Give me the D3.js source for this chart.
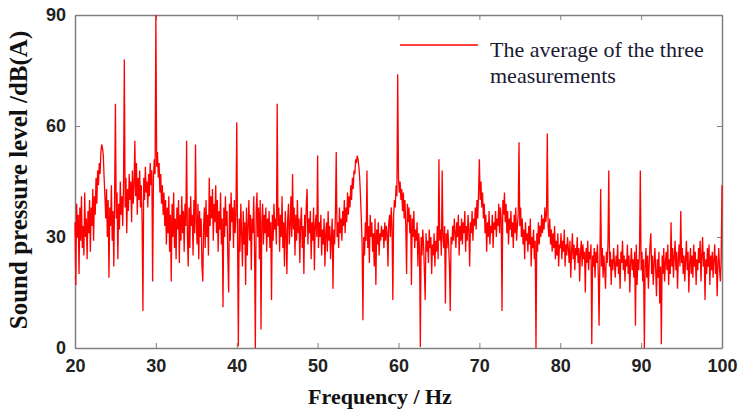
<!DOCTYPE html>
<html>
<head>
<meta charset="utf-8">
<script src="https://cdn.jsdelivr.net/npm/d3@7"></script>
<style>
  body { margin: 0; background: #fff; }
  .tick text { font-family: "Liberation Sans", Arial, sans-serif; font-weight: bold; font-size: 18px; fill: #222; }
  .axis path, .axis line { stroke: #808080; }
</style>
</head>
<body>
<div id="chart"></div>
<script>
// sound pressure level, one value every 0.1 Hz from 20 Hz
var startHz = 20, stepHz = 0.1;
var level20 = [34,17,39,30,36,20,38,29,41,27, 33,25,42,30,35,24,37,31,40,26,
    38,33,43,29,41,36,46,39,48,44, 50,47,53,55,54,52,46,41,35,43,
    30,40,19,38,33,44,29,37,22,41, 66,35,42,24,39,32,45,36,41,33,
    44,78,38,46,31,43,37,47,40,45, 34,48,39,44,56,41,50,36,46,40,
    48,38,44,34,10,46,40,49,42,45, 38,47,41,50,44,48,18,46,51,47];
var level30 = [90,49,53,46,50,42,47,39,44,36, 42,33,40,28,38,31,41,26,36,18,
    39,30,42,27,35,24,38,32,40,23, 36,29,41,31,37,26,39,33,56,30,
    22,38,27,41,33,36,25,40,31,55, 34,28,39,24,37,30,35,22,18,33,
    38,27,40,30,36,25,46,33,41,35, 43,29,39,34,44,31,40,26,37,32,
    42,28,35,11,38,30,41,33,37,24, 15,39,29,42,34,38,27,40,31,36];
var level40 = [61,30,0.5,35,26,39,31,22,37,28, 34,17,38,25,33,40,29,36,21,35,
    31,41,27,0,37,42,30,38,24,40, 5,34,39,28,36,31,38,26,35,30,
    37,27,34,13,36,29,39,32,35,28, 66,33,38,26,36,30,41,27,34,22,
    37,31,20,35,39,28,33,41,30,47, 32,38,25,36,29,40,31,35,23,34,
    38,27,33,20,36,30,39,43,28,35, 31,37,24,34,29,38,21,33,36,30];
var level50 = [52,27,34,30,36,25,32,28,35,22, 31,34,26,37,29,33,24,30,35,16,
    32,28,36,53,30,34,27,38,31,35, 29,37,33,40,31,38,34,42,36,41,
    38,44,40,46,43,48,47,51,50,52, 51,49,46,41,35,28,7.5,30,25,34,
    29,48,27,33,23,36,30,34,26,31, 22,35,17,32,28,34,25,31,29,33,
    30,32,27,34,29,33,31,22,34,36, 30,38,33,13,36,40,38,44,41,74];
var level60 = [46,42,45,40,43,37,42,35,40,33, 20,39,34,38,31,36,17,35,30,37,
    27,32,29,34,22,31,27,0.3,30,25, 32,28,21,13,31,26,29,23,32,27,
    30,20,28,25,31,22,29,26,33,24, 51,29,32,25,48,30,27,33,12,31,
    27,32,28,22,10,30,28,33,29,35, 31,27,34,30,36,25,33,29,35,28,
    34,31,37,26,33,29,36,32,22,34, 31,37,29,35,33,38,32,40,35,42];
var level70 = [51,40,45,38,42,35,39,31,36,26, 34,30,37,28,33,31,36,27,34,32,
    37,30,35,33,39,31,38,35,10,40, 36,42,34,39,31,37,28,35,32,37,
    30,34,27,36,31,38,29,33,36,55.6, 33,38,30,35,28,32,24,34,29,31,
    26,33,28,35,22,30,27,32,24,29, 0,31,26,34,28,33,30,36,31,35,
    32,38,34,36,58,33,30,35,28,32, 26,31,27,33,24,29,25,31,22,28];
var level80 = [27,31,24,29,26,32,22,28,25,30, 27,23,29,19,26,31,24,28,21,27,
    25,30,23,27,18,26,29,22,28,24, 26,15,27,23,29,21,26,24,28,1,
    25,22,27,19,26,23,28,20,6,24, 43,22,27,19,25,21,16,26,23,28,
    48,22,26,17,24,21,27,23,19,25, 22,28,20,24,16,26,23,29,21,25,
    18,24,22,28,20,25,15,23,27,21, 24,19,26,6,28,17,24,21,26,48];
var level90 = [21,26,18,24,0,22,27,19,25,16, 23,28,31,20,25,17,23,27,21,14,
    24,19,26,12,22,1,25,20,27,18, 23,26,21,28,17,24,20,34,22,27,
    19,25,29,21,26,16,24,28,22,37, 23,27,20,25,18,24,29,21,26,15,
    23,27,20,25,19,28,22,26,17,24, 21,27,23,29,18,25,30,22,26,13,
    24,20,27,22,28,17,25,21,26,19, 24,28,20,25,14,23,27,21,18,24, 44];

var xTicks = [20, 30, 40, 50, 60, 70, 80, 90, 100];
var yTicks = [0, 30, 60, 90];
var legendLines = ['The average of the three', 'measurements'];

var levels = [].concat(level20, level30, level40, level50, level60, level70, level80, level90);
var data = levels.map(function (d, i) {
    return {f: startHz + i * stepHz, v: d};
});

var margin = {top: 15, bottom: 66, left: 75, right: 18};
var width = 740 - margin.left - margin.right,
    height = 414 - margin.top - margin.bottom;

var svg = d3.select('#chart').append('svg')
    .attr('width', 740)
    .attr('height', 414);

var g = svg.append('g')
    .attr('transform', 'translate(' + margin.left + ',' + margin.top + ')');

var x = d3.scaleLinear().domain([20, 100]).range([0, width]);
var y = d3.scaleLinear().domain([0, 90]).range([height, 0]);

// axes on all four sides, ticks pointing inward
g.append('g')
    .attr('class', 'axis')
    .attr('transform', 'translate(0,' + height + ')')
    .call(d3.axisBottom(x).tickValues(xTicks).tickSizeInner(-5).tickSizeOuter(0).tickPadding(11));
g.append('g')
    .attr('class', 'axis')
    .call(d3.axisTop(x).tickValues(xTicks).tickSizeInner(-5).tickSizeOuter(0).tickFormat(''));
g.append('g')
    .attr('class', 'axis')
    .call(d3.axisLeft(y).tickValues(yTicks).tickSizeInner(-5).tickSizeOuter(0).tickPadding(9));
g.append('g')
    .attr('class', 'axis')
    .attr('transform', 'translate(' + width + ',0)')
    .call(d3.axisRight(y).tickValues(yTicks).tickSizeInner(-5).tickSizeOuter(0).tickFormat(''));

g.selectAll('.axis path').attr('stroke-width', 1.5);

var line = d3.line()
    .x(function (d) { return x(d.f); })
    .y(function (d) { return y(d.v); });

g.append('path')
    .datum(data)
    .attr('fill', 'none')
    .attr('stroke', '#ff0000')
    .attr('stroke-width', 1.3)
    .attr('d', line);

// legend
var legend = g.append('g').attr('transform', 'translate(325,30)');
legend.append('line')
    .attr('x1', 0).attr('x2', 78)
    .attr('y1', 0).attr('y2', 0)
    .attr('stroke', '#ff0000')
    .attr('stroke-width', 1.5);
legend.selectAll('text.leg')
    .data(legendLines)
    .enter()
    .append('text')
    .attr('class', 'leg')
    .attr('x', 90)
    .attr('y', function (d, i) { return 12 + i * 26; })
    .attr('font-family', '"Liberation Serif", "Times New Roman", serif')
    .attr('font-size', '22px')
    .attr('fill', '#1a1a33')
    .text(function (d) { return d; });

g.append('text')
    .attr('x', 380 - margin.left)
    .attr('y', height + 56)
    .attr('text-anchor', 'middle')
    .attr('font-family', '"Liberation Serif", "Times New Roman", serif')
    .attr('font-weight', 'bold')
    .attr('font-size', '22px')
    .attr('fill', '#111')
    .text('Frequency / Hz');

g.append('text')
    .attr('x', -(180 - margin.top))
    .attr('y', -48)
    .attr('text-anchor', 'middle')
    .attr('transform', 'rotate(-90)')
    .attr('font-family', '"Liberation Serif", "Times New Roman", serif')
    .attr('font-weight', 'bold')
    .attr('font-size', '25px')
    .attr('fill', '#111')
    .text('Sound pressure level /dB(A)');
</script>
</body>
</html>
